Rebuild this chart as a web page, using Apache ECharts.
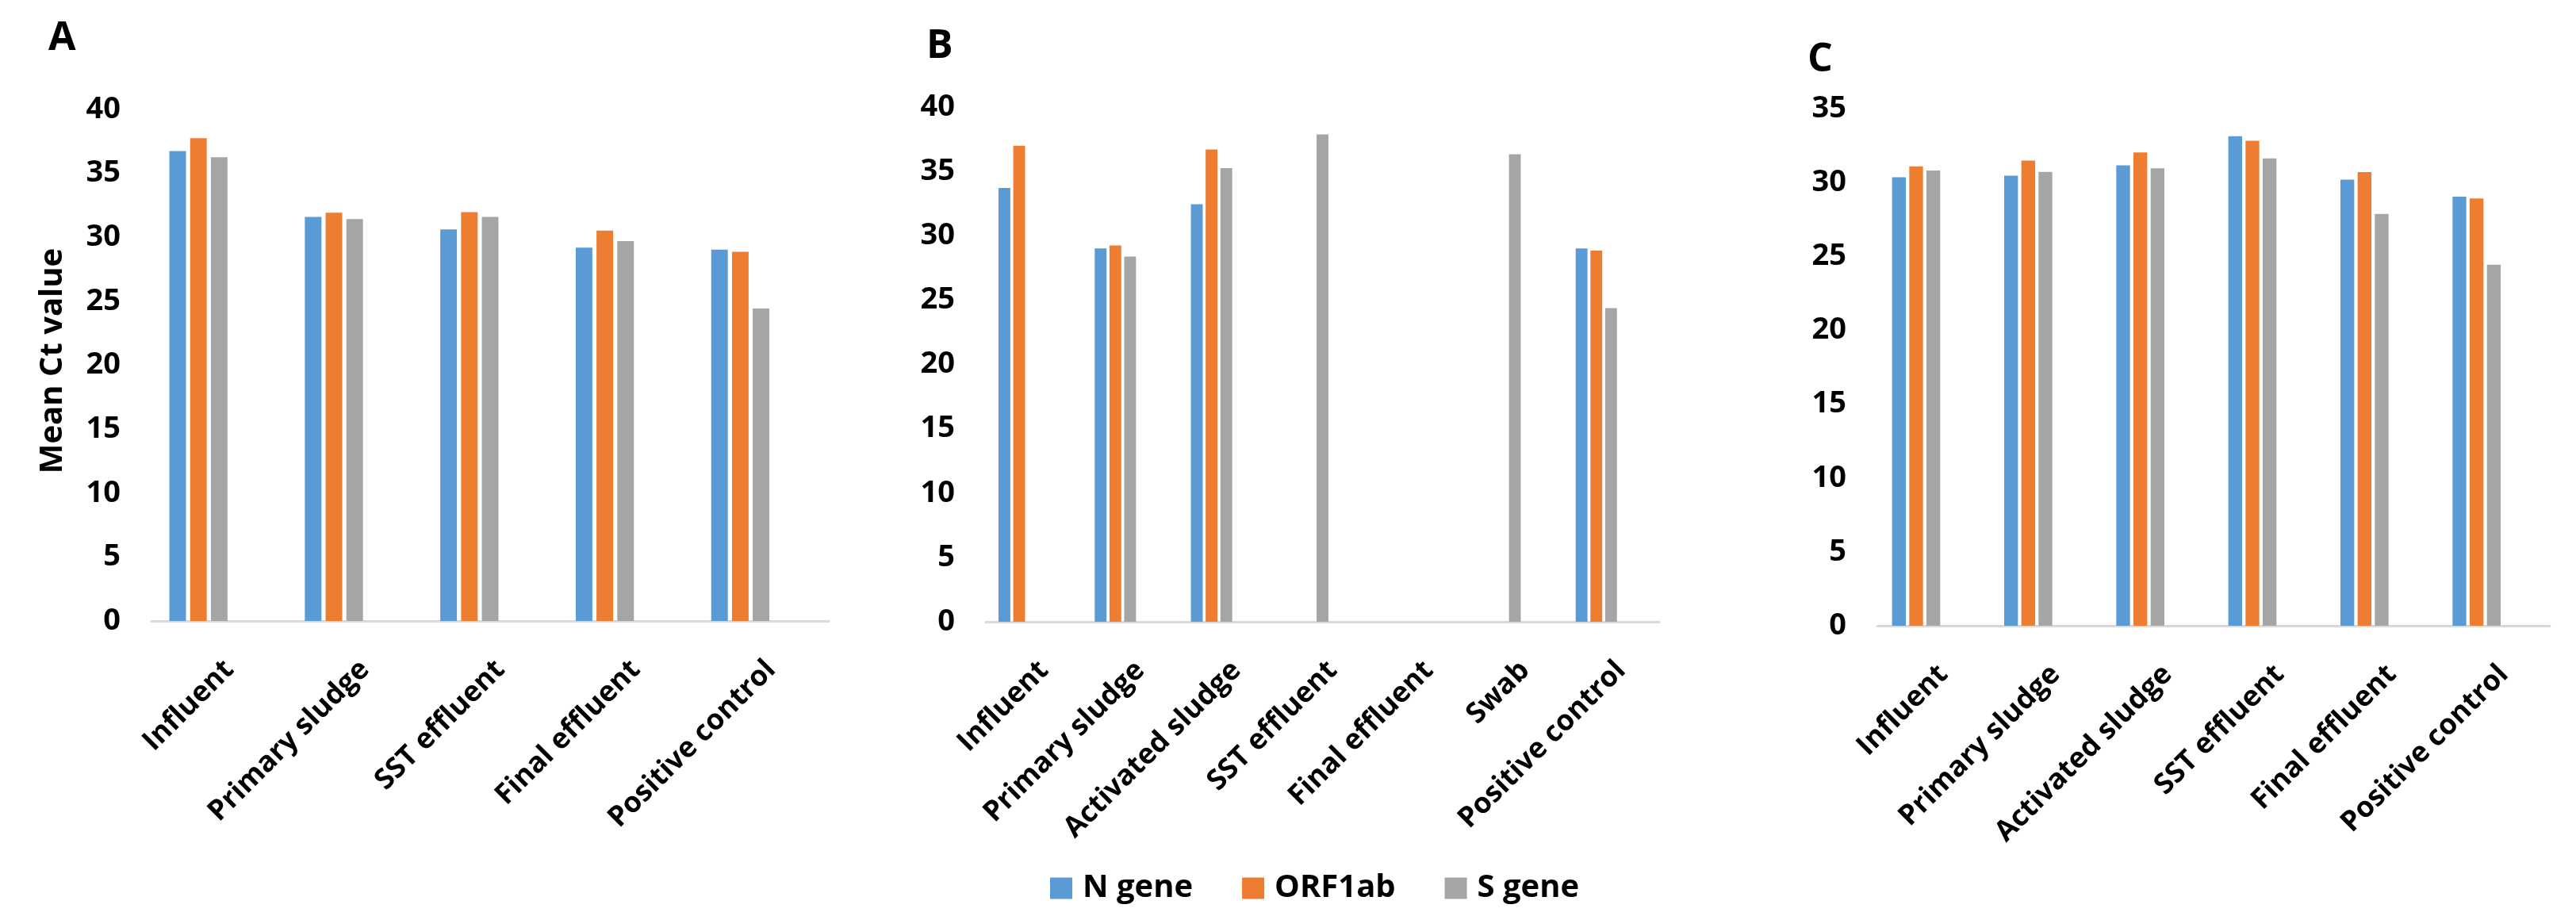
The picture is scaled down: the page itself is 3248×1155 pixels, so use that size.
<!DOCTYPE html>
<html>
<head>
<meta charset="utf-8">
<script src="https://cdn.jsdelivr.net/npm/echarts@6/dist/echarts.min.js"></script>
<style>
html,body{margin:0;padding:0;background:#fff;}
#chart{width:3248px;height:1155px;}
</style>
</head>
<body>
<div id="chart"></div>
<script>
// ---- Data ----
var seriesNames = ['N gene', 'ORF1ab', 'S gene'];
var panelTitles = ['A', 'B', 'C'];
var yAxisTitle = 'Mean Ct value';

var catsA = ['Influent', 'Primary sludge', 'SST effluent', 'Final effluent', 'Positive control'];
var nGeneA = [36.74, 31.60, 30.62, 29.20, 29.04];
var orf1abA = [37.75, 31.93, 31.97, 30.52, 28.87];
var sGeneA = [36.27, 31.43, 31.60, 29.71, 24.44];

var catsB = ['Influent', 'Primary sludge', 'Activated sludge', 'SST effluent', 'Final effluent', 'Swab', 'Positive control'];
var nGeneB = [33.72, 29.01, 32.45, null, null, null, 29.01];
var orf1abB = [37.00, 29.24, 36.70, null, null, null, 28.84];
var sGeneB = [null, 28.38, 35.26, 37.87, null, 36.33, 24.37];

var catsC = ['Influent', 'Primary sludge', 'Activated sludge', 'SST effluent', 'Final effluent', 'Positive control'];
var nGeneC = [30.35, 30.46, 31.16, 33.14, 30.20, 29.04];
var orf1abC = [31.10, 31.48, 32.03, 32.82, 30.70, 28.92];
var sGeneC = [30.81, 30.72, 30.96, 31.63, 27.87, 24.44];

var yMaxA = 40, yMaxB = 40, yMaxC = 35, yStep = 5;

// ---- Styling / layout ----
var colors = ['#5B9BD5', '#ED7D31', '#A5A5A5'];
var font = "'Open Sans', 'DejaVu Sans', sans-serif";

var panels = [
  {cats: catsA, data: [nGeneA, orf1abA, sGeneA], max: yMaxA, grid: {left: 191, top: 138, width: 854, height: 645}},
  {cats: catsB, data: [nGeneB, orf1abB, sGeneB], max: yMaxB, grid: {left: 1243, top: 135, width: 849, height: 649}},
  {cats: catsC, data: [nGeneC, orf1abC, sGeneC], max: yMaxC, grid: {left: 2367, top: 137, width: 848, height: 652}}
];

var grids = [], xAxes = [], yAxes = [], series = [];
panels.forEach(function (p, i) {
  grids.push(p.grid);
  xAxes.push({
    type: 'category', gridIndex: i, data: p.cats,
    axisLine: {show: true, lineStyle: {color: '#D9D9D9', width: 3}},
    axisTick: {show: false},
    axisLabel: {
      interval: 0, rotate: 45, margin: 43, verticalAlign: 'top',
      fontFamily: font, fontWeight: 'bold',
      fontSize: 36, color: '#000'
    },
    splitLine: {show: false}
  });
  yAxes.push({
    type: 'value', gridIndex: i, min: 0, max: p.max, interval: yStep,
    axisLine: {show: false}, axisTick: {show: false}, splitLine: {show: false},
    axisLabel: {margin: 39, fontFamily: font, fontWeight: 'bold', fontSize: 38, color: '#000'}
  });
  p.data.forEach(function (vals, k) {
    series.push({
      name: seriesNames[k], type: 'bar', xAxisIndex: i, yAxisIndex: i,
      data: vals.map(function (v) { return v === null ? '-' : v; }),
      itemStyle: {color: colors[k]},
      barGap: '25%', barCategoryGap: '26.4%'
    });
  });
  // two empty slots per category (the original chart reserves them)
  ['pad1', 'pad2'].forEach(function (nm) {
    series.push({
      name: nm + '_' + i, type: 'bar', xAxisIndex: i, yAxisIndex: i,
      data: [], barGap: '25%', barCategoryGap: '26.4%', silent: true
    });
  });
});

var chart = echarts.init(document.getElementById('chart'), null, {renderer: 'canvas'});
chart.setOption({
  animation: false,
  backgroundColor: '#ffffff',
  color: colors,
  grid: grids,
  xAxis: xAxes,
  yAxis: yAxes,
  legend: {
    data: seriesNames,
    left: 1319, top: 1095,
    itemWidth: 28, itemHeight: 27, itemGap: 62,
    icon: 'rect',
    textStyle: {fontFamily: font, fontWeight: 'bold', fontSize: 40, color: '#000', padding: [0, 0, 0, 8]}
  },
  graphic: [
    {type: 'text', left: 61, top: 24, style: {text: panelTitles[0], font: "bold 50px " + font, fill: '#000'}},
    {type: 'text', left: 1168, top: 34, style: {text: panelTitles[1], font: "bold 50px " + font, fill: '#000'}},
    {type: 'text', left: 2279, top: 51, style: {text: panelTitles[2], font: "bold 50px " + font, fill: '#000'}},
    {type: 'text', x: 67, y: 455, rotation: Math.PI / 2,
     style: {text: yAxisTitle, font: "bold 40px " + font, fill: '#000', align: 'center', verticalAlign: 'middle'}}
  ],
  series: series
});
</script>
</body>
</html>
